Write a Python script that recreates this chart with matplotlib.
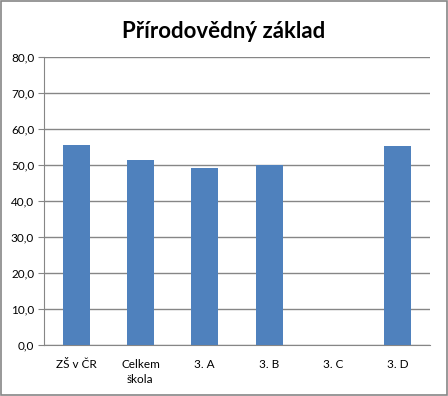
import matplotlib
matplotlib.use("Agg")
import matplotlib.pyplot as plt
from matplotlib.patches import Rectangle

categories = ["ZŠ v ČR", "Celkem\nškola", "3. A", "3. B", "3. C", "3. D"]
values = [55.5, 51.4, 49.2, 50.1, 0.0, 55.3]
yticks = [0, 10, 20, 30, 40, 50, 60, 70, 80]

plt.rcParams['font.family'] = ['Lato', 'DejaVu Sans']

fig = plt.figure(figsize=(4.48, 3.96), dpi=100)
ax = fig.add_axes([0.098, 0.129, 0.862, 0.727])

x = range(len(categories))
ax.bar(x, values, width=0.42, color="#4f81bd", zorder=3)

ax.set_xlim(-0.5, len(categories) - 0.5)
ax.set_ylim(0, 80)
ax.set_yticks(yticks)
ax.set_yticklabels([f"{v:.1f}".replace(".", ",") for v in yticks], fontsize=8.5)
ax.set_xticks(list(x))
ax.set_xticklabels(categories, fontsize=8.5, linespacing=1.45, va="top")
ax.tick_params(axis="x", length=0, pad=10)
ax.tick_params(axis="y", length=4, color="#868686", pad=3)
ax.yaxis.grid(True, color="#868686", linewidth=1, zorder=0)

for s in ["top", "right"]:
    ax.spines[s].set_visible(False)
for s in ["left", "bottom"]:
    ax.spines[s].set_color("#868686")

fig.text(0.5, 0.92, "Přírodovědný základ", ha="center", va="center",
         fontsize=16, fontweight="bold")

fig.patches.append(Rectangle((0.002, 0.002), 0.996, 0.996, transform=fig.transFigure,
                             fill=False, edgecolor="#868686", linewidth=1.2))

fig.savefig("out.png", dpi=100)
